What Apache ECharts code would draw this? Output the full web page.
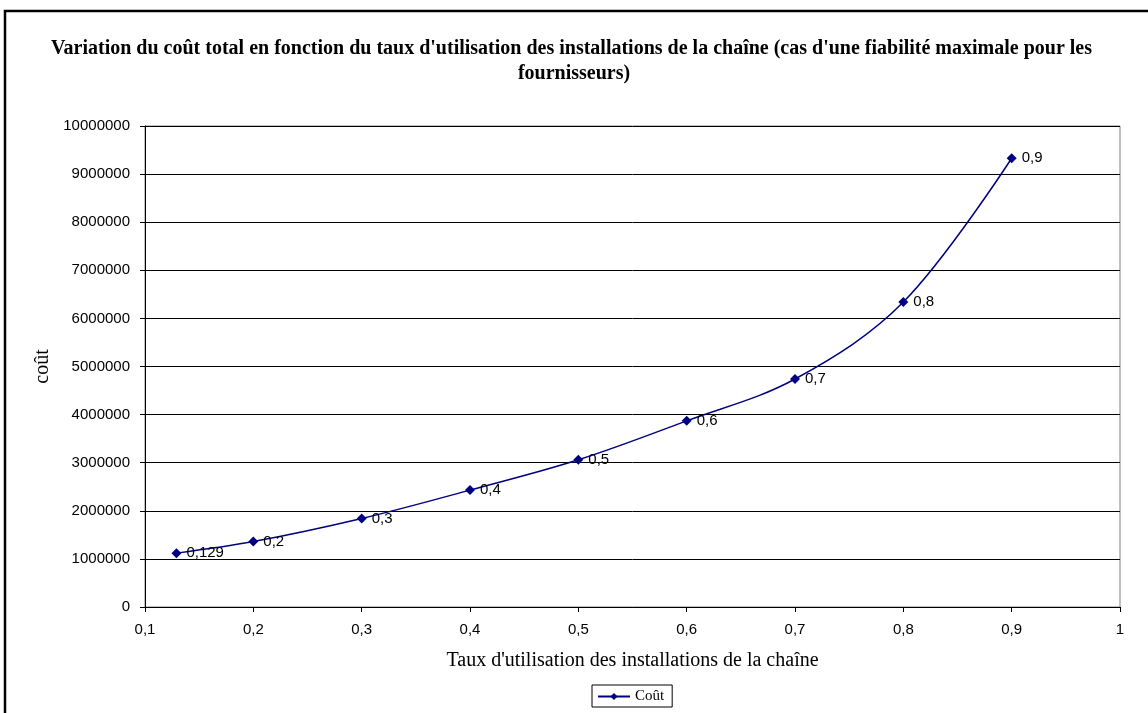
<!DOCTYPE html>
<html><head><meta charset="utf-8">
<script src="https://cdn.jsdelivr.net/npm/echarts@6/dist/echarts.min.js"></script>
<style>html,body{margin:0;padding:0;background:#fff}#c{width:1148px;height:713px}</style>
</head><body><div id="c"></div>
<script>
const tauxUtilisation = [0.129, 0.2, 0.3, 0.4, 0.5, 0.6, 0.7, 0.8, 0.9];
const cout = [1120000, 1360000, 1840000, 2430000, 3060000, 3870000, 4740000, 6340000, 9330000];
const seriesName = 'Coût';
const titleText = "Variation du coût total en fonction du taux d'utilisation des installations de la chaîne (cas d'une fiabilité maximale pour les fournisseurs)";
const xName = "Taux d'utilisation des installations de la chaîne";
const yName = 'coût';

const fmtX = v => String(parseFloat(Number(v).toFixed(3))).replace('.', ',');
const chart = echarts.init(document.getElementById('c'));
chart.setOption({
  animation: false,
  backgroundColor: '#fff',
  graphic: [{
    type: 'rect', shape: {x: 5, y: 11, width: 1160, height: 720},
    style: {fill: 'none', stroke: '#000', lineWidth: 2.5}, silent: true, z: 0
  }],
  title: {
    text: titleText, left: 'center', top: 36, padding: 0,
    textStyle: {fontFamily: 'Liberation Serif', fontWeight: 'bold', fontSize: 20, color: '#000',
      width: 1090, overflow: 'break', lineHeight: 25, align: 'center'}
  },
  grid: {left: 145, right: 28, top: 126, bottom: 106, show: true, borderColor: '#808080', borderWidth: 1, containLabel: false},
  legend: {
    bottom: 6, left: 592, data: [seriesName], itemWidth: 32, itemHeight: 9, itemGap: 5,
    padding: [4, 8, 3, 5], borderColor: '#000', borderWidth: 1, borderRadius: 0,
    textStyle: {fontFamily: 'Liberation Serif', fontSize: 15, color: '#000', padding: [2, 0, 0, 0]}
  },
  xAxis: {
    type: 'value', min: 0.1, max: 1, interval: 0.1,
    name: xName, nameLocation: 'middle', nameGap: 44,
    nameTextStyle: {fontFamily: 'Liberation Serif', fontSize: 20, color: '#000'},
    axisLine: {lineStyle: {color: '#000', width: 1}},
    axisTick: {show: true, length: 5, lineStyle: {color: '#000'}},
    axisLabel: {formatter: fmtX, fontFamily: 'Liberation Sans', fontSize: 15, color: '#000', margin: 15},
    splitLine: {show: false}
  },
  yAxis: {
    type: 'value', min: 0, max: 10000000, interval: 1000000,
    name: yName, nameLocation: 'middle', nameGap: 90, nameRotate: 90,
    nameTextStyle: {fontFamily: 'Liberation Serif', fontSize: 20, color: '#000'},
    axisLine: {show: true, lineStyle: {color: '#000', width: 1}},
    axisTick: {show: true, length: 5, lineStyle: {color: '#000'}},
    axisLabel: {formatter: v => String(v), fontFamily: 'Liberation Sans', fontSize: 15, color: '#000', margin: 15},
    splitLine: {show: true, lineStyle: {color: '#000', width: 1}}
  },
  series: [{
    name: seriesName, type: 'line', smooth: 0.35,
    data: tauxUtilisation.map((x, i) => [x, cout[i]]),
    symbol: 'diamond', symbolSize: 10,
    itemStyle: {color: '#000080'},
    lineStyle: {color: '#000080', width: 1.5},
    label: {show: true, position: 'right', distance: 5, formatter: p => fmtX(p.value[0]),
      fontFamily: 'Liberation Sans', fontSize: 15, color: '#000'}
  }]
});
</script></body></html>
